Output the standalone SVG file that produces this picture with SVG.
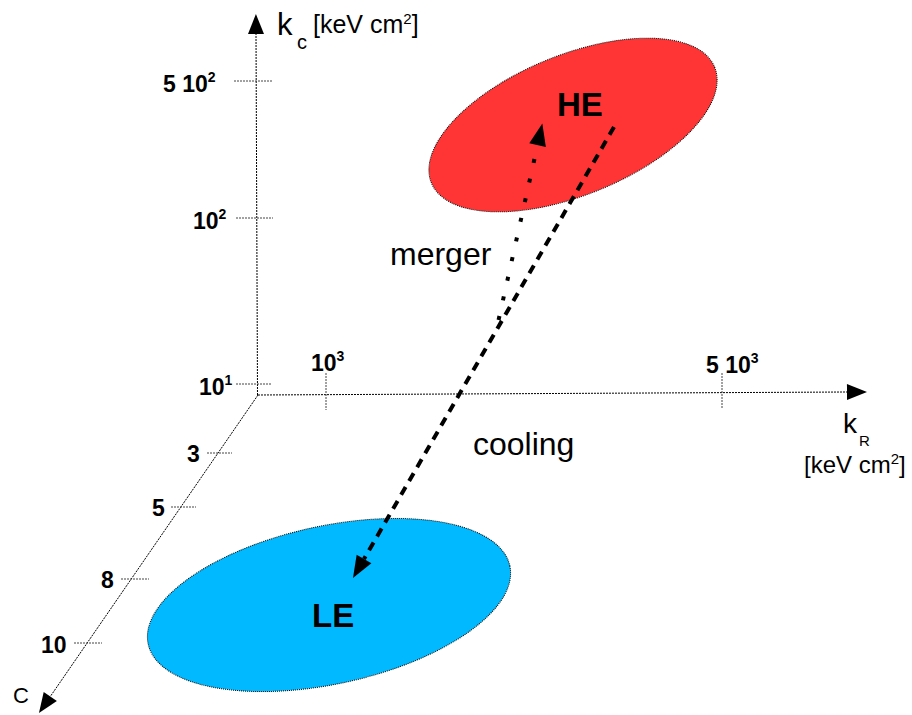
<svg xmlns="http://www.w3.org/2000/svg" width="912" height="715" viewBox="0 0 912 715">
<style>
text{font-family:"Liberation Sans",Arial,sans-serif;fill:#000}
.b{font-weight:bold}
.axis{stroke:#000;stroke-width:1;stroke-dasharray:2,1;fill:none}
.tick{stroke:#444;stroke-width:1;stroke-dasharray:2,1;fill:none}
.outline{stroke:#000;stroke-width:1;stroke-dasharray:1,1}
.cool{stroke:#000;stroke-width:4;stroke-dasharray:9,7;fill:none}
.merge{stroke:#000;stroke-width:4;stroke-dasharray:4,16.11;fill:none}
</style>
<defs>
<marker id="ah" markerUnits="userSpaceOnUse" markerWidth="24" markerHeight="20" refX="0" refY="10" orient="auto" overflow="visible">
<path d="M0,1.5 L22,10 L0,18.5 z" fill="#000"/>
</marker>
<marker id="axh" markerUnits="userSpaceOnUse" markerWidth="22" markerHeight="18" refX="0" refY="9" orient="auto" overflow="visible">
<path d="M0,1 L20,9 L0,17 z" fill="#000"/>
</marker>
</defs>
<rect width="912" height="715" fill="#fff"/>

<g id="axes">
<line class="axis" x1="257.5" y1="395" x2="256" y2="34" marker-end="url(#axh)"/>
<line class="axis" x1="258" y1="395" x2="847" y2="392" marker-end="url(#axh)"/>
<line class="axis" x1="258" y1="395" x2="50.3" y2="696.5" marker-end="url(#axh)"/>
<line class="tick" x1="234" y1="81" x2="273" y2="81"/>
<line class="tick" x1="236" y1="218" x2="273" y2="218"/>
<line class="tick" x1="236" y1="384" x2="272" y2="384"/>
<line class="tick" x1="326" y1="373" x2="326" y2="410"/>
<line class="tick" x1="722" y1="373" x2="722" y2="408"/>
<line class="tick" x1="207" y1="453" x2="232" y2="453"/>
<line class="tick" x1="171" y1="507" x2="196" y2="507"/>
<line class="tick" x1="121" y1="579" x2="149" y2="579"/>
<line class="tick" x1="74" y1="643" x2="102" y2="643"/>
</g>

<g id="axis-labels">
<text x="277" y="35" font-size="31">k</text>
<text x="297" y="49" font-size="20">c</text>
<text x="313" y="33" font-size="25">[keV cm<tspan font-size="15" dy="-9">2</tspan><tspan dy="9">]</tspan></text>
<text x="843" y="433" font-size="28">k</text>
<text x="859" y="446" font-size="15">R</text>
<text x="804" y="473" font-size="24">[keV cm<tspan font-size="15" dy="-9">2</tspan><tspan dy="9">]</tspan></text>
<text x="13" y="703" font-size="22">C</text>
<text class="b" x="163" y="92" font-size="23">5 10<tspan font-size="14" dy="-10">2</tspan></text>
<text class="b" x="193" y="229" font-size="23">10<tspan font-size="14" dy="-10">2</tspan></text>
<text class="b" x="199" y="395" font-size="23">10<tspan font-size="14" dy="-10">1</tspan></text>
<text class="b" x="311" y="371" font-size="23">10<tspan font-size="14" dy="-10">3</tspan></text>
<text class="b" x="706" y="373" font-size="23">5 10<tspan font-size="14" dy="-10">3</tspan></text>
<text class="b" x="187" y="462" font-size="23">3</text>
<text class="b" x="152" y="516" font-size="23">5</text>
<text class="b" x="101" y="588" font-size="23">8</text>
<text class="b" x="41" y="653" font-size="23">10</text>
</g>

<g id="node-HE">
<ellipse class="outline" cx="573" cy="125" rx="153" ry="70" transform="rotate(-22.2 573 125)" fill="#FF3535"/>
<text class="b" x="557" y="116" font-size="33">HE</text>
</g>

<g id="node-LE">
<ellipse class="outline" cx="329" cy="605" rx="185" ry="79" transform="rotate(-12.2 329 605)" fill="#00B9FF"/>
<text class="b" x="312" y="627" font-size="33">LE</text>
</g>

<g id="connectors">
<line class="cool" x1="614" y1="127" x2="364" y2="559" marker-end="url(#ah)"/>
<line class="merge" x1="498.57" y1="319.95" x2="537.55" y2="145.09" marker-end="url(#ah)"/>
</g>

<g id="edge-labels">
<text x="390" y="265" font-size="32">merger</text>
<text x="473" y="455" font-size="32">cooling</text>
</g>
</svg>
